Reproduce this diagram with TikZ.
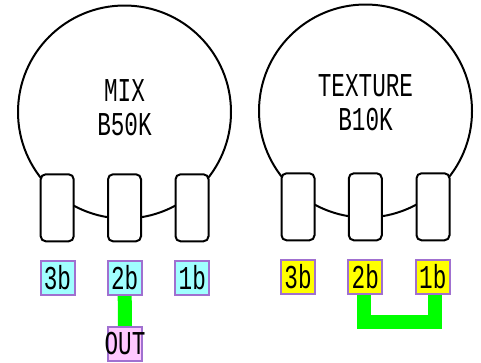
\documentclass[tikz,border=0pt]{standalone}
\usepackage{fontspec}
\setmainfont[FakeStretch=0.68]{Liberation Mono}
\usetikzlibrary{positioning}
\pgfdeclarelayer{background}
\pgfsetlayers{background,main}
\definecolor{labelborder}{HTML}{A070D0}
\definecolor{labelcyan}{HTML}{A0FFFF}
\definecolor{labelyellow}{HTML}{FFFF00}
\definecolor{labelpink}{HTML}{FFC8FF}
\definecolor{wiregreen}{HTML}{00FF00}

\begin{document}
\begin{tikzpicture}[
	x=0.75pt, y=-0.75pt,
	potnode/.style={circle, draw=black, line width=1.5pt, fill=white, inner sep=0pt, minimum size=159.75pt},
	lugnode/.style={rectangle, draw=black, line width=1.5pt, fill=white, rounded corners=3.75pt, minimum width=24.75pt, minimum height=50.25pt},
	padnode/.style={rectangle, draw=labelborder, line width=1.5pt, inner sep=0pt, minimum size=25.5pt, font=\fontsize{25}{25}\selectfont},
	namenode/.style={align=center, inner sep=0pt, font=\fontsize{25}{25.5}\selectfont},
	wire/.style={draw=wiregreen, line width=10.5pt},
	]
	\useasboundingbox (0,0) rectangle (481,362);
	%Nodes
	\node[potnode]      (potmix) 	at 	(124.5,112)     {};
	\node[potnode]      (pottex) 	at 	(365.5,111)     {};
	\node[namenode]     (namemix) 	at 	(124.5,108)     {MIX\\B50K};
	\node[namenode]     (nametex) 	at 	(365.5,103)     {TEXTURE\\B10K};
	\node[lugnode]      (lugm3) 	at 	(57.2,207.8)    {};
	\node[lugnode]      (lugm2) 	at 	(124.5,207.8)   {};
	\node[lugnode]      (lugm1) 	at 	(192,207.8)     {};
	\node[lugnode]      (lugt3) 	at 	(298,206.8)     {};
	\node[lugnode]      (lugt2) 	at 	(365.3,206.8)   {};
	\node[lugnode]      (lugt1) 	at 	(433,206.8)     {};
	\node[padnode, fill=labelcyan]  (padm3) 	at 	(57.5,278)      {3b};
	\node[padnode, fill=labelcyan]  (padm2) 	at 	(124.7,278)     {2b};
	\node[padnode, fill=labelcyan]  (padm1) 	at 	(192.3,278)     {1b};
	\node[padnode, fill=labelyellow]     (padt3) 	at 	(298,276.7)     {3b};
	\node[padnode, fill=labelyellow]     (padt2) 	at 	(365.3,276.7)   {2b};
	\node[padnode, fill=labelyellow]     (padt1) 	at 	(432.8,276.7)   {1b};
	\node[padnode, fill=labelpink]  (out) 		at 	(125,344)       {\makebox[0pt][c]{OUT}};

	\begin{pgfonlayer}{background}
	%Lines
	\draw[wire] (padm2.south) -- (out.north);
	\draw[wire] ([xshift=-0.9pt]padt2.south) -- ++(0,27.5) -| ([xshift=1.4pt]padt1.south);
	\end{pgfonlayer}
\end{tikzpicture}
\end{document}
